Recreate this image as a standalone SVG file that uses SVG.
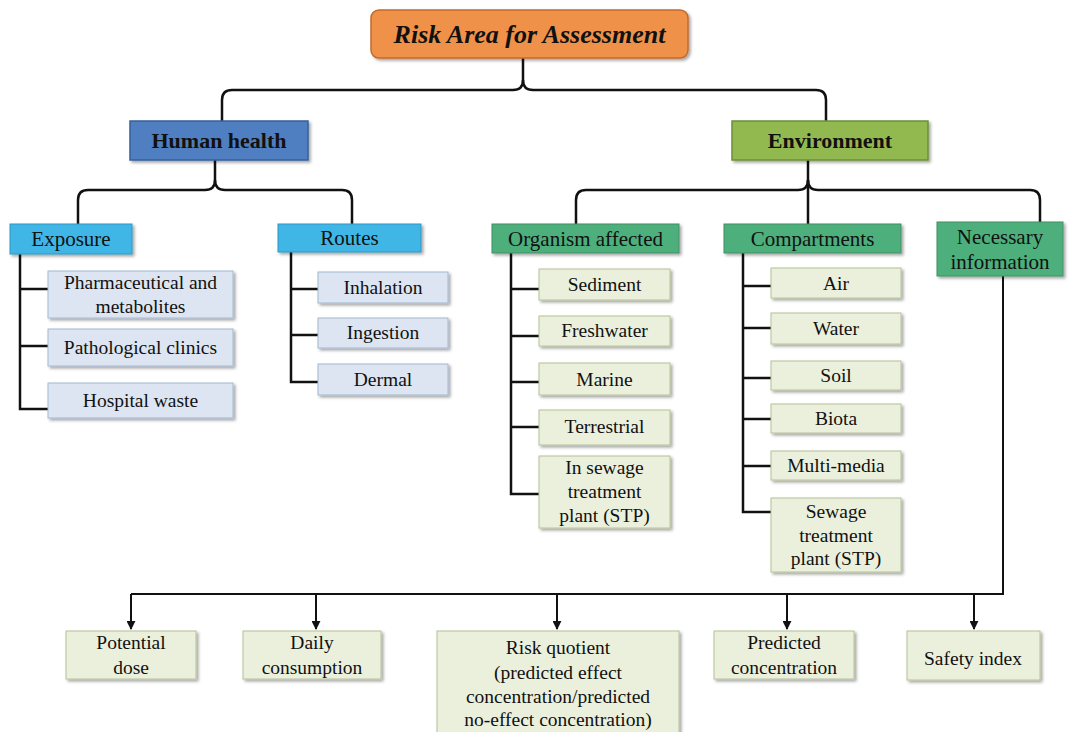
<svg xmlns="http://www.w3.org/2000/svg" width="1069" height="732" viewBox="0 0 1069 732">
<defs>
<filter id="sh" x="-10%" y="-10%" width="130%" height="140%">
<feDropShadow dx="2" dy="2" stdDeviation="1.5" flood-color="#000" flood-opacity="0.35"/>
</filter>
<marker id="arr" viewBox="0 0 10 10" refX="9" refY="5" markerWidth="9" markerHeight="9" markerUnits="userSpaceOnUse" orient="auto">
<path d="M0,0 L10,5 L0,10 z" fill="#111"/>
</marker>
<style>
text{font-family:'Liberation Serif','Tinos','Times New Roman','DejaVu Serif',serif;fill:#111;text-anchor:middle;}
.t{font-size:26px;font-weight:bold;font-style:italic;}
.h{font-size:22px;font-weight:bold;}
.s{font-size:21px;}
.c{font-size:19.5px;}
.top{fill:#F0914A;stroke:#C2692B;stroke-width:1.5;}
.hh{fill:#4F7FC0;stroke:#35609A;stroke-width:1.5;}
.env{fill:#92B94F;stroke:#6E8E38;stroke-width:1.5;}
.bl{fill:#3FB6E7;stroke:#3496C2;stroke-width:1;}
.lb{fill:#DCE5F1;stroke:#A3B8D2;stroke-width:1;}
.gr{fill:#4EAF7C;stroke:#3E9063;stroke-width:1;}
.lg{fill:#EBF0DD;stroke:#B4C294;stroke-width:1;}
.ln{fill:none;stroke:#111;stroke-width:2.5;}
.ar{fill:none;stroke:#111;stroke-width:2;}
</style>
</defs>

<g id="connectors">
<path class="ln" d="M523,58 L523,80 Q523,90 513,90 L232,90 Q222,90 222,100 L222,121"/>
<path class="ln" d="M523,80 Q523,90 533,90 L816,90 Q826,90 826,100 L826,121"/>
<path class="ln" d="M215,160 L215,180 Q215,190 205,190 L88,190 Q78,190 78,200 L78,224"/>
<path class="ln" d="M215,180 Q215,190 225,190 L342,190 Q352,190 352,200 L352,224"/>
<path class="ln" d="M808,160 L808,224"/>
<path class="ln" d="M808,180 Q808,190 798,190 L586,190 Q576,190 576,200 L576,224"/>
<path class="ln" d="M808,180 Q808,190 818,190 L1030,190 Q1040,190 1040,200 L1040,222"/>
<path class="ln" d="M20,254 L20,409 L48,409 M20,289 L48,289 M20,346 L48,346"/>
<path class="ln" d="M291,252 L291,382 L318,382 M291,289 L318,289 M291,335 L318,335"/>
<path class="ln" d="M511,253 L511,494 L539,494 M511,289 L539,289 M511,336 L539,336 M511,382 L539,382 M511,427 L539,427"/>
<path class="ln" d="M743,253 L743,512 L771,512 M743,286 L771,286 M743,328 L771,328 M743,378 L771,378 M743,419 L771,419 M743,466 L771,466"/>
<path class="ar" d="M1003,276 L1003,594 L131,594"/>
<path class="ar" d="M131,594 L131,629" marker-end="url(#arr)"/>
<path class="ar" d="M316,594 L316,629" marker-end="url(#arr)"/>
<path class="ar" d="M557,594 L557,629" marker-end="url(#arr)"/>
<path class="ar" d="M787,594 L787,629" marker-end="url(#arr)"/>
<path class="ar" d="M974,594 L974,629" marker-end="url(#arr)"/>
</g>

<g id="risk-area"><rect class="top" x="371" y="10" width="317" height="48" rx="8" filter="url(#sh)"/><text class="t" x="529.5" y="43">Risk Area for Assessment</text></g>

<g id="human-health"><rect class="hh" x="130" y="121" width="178" height="39" filter="url(#sh)"/><text class="h" x="219" y="148">Human health</text></g>
<g id="environment"><rect class="env" x="732" y="121" width="196" height="39" filter="url(#sh)"/><text class="h" x="830" y="148">Environment</text></g>

<g id="exposure"><rect class="bl" x="10" y="224" width="122" height="30" filter="url(#sh)"/><text class="s" x="71" y="246">Exposure</text></g>
<g id="routes"><rect class="bl" x="278" y="224" width="143" height="28" filter="url(#sh)"/><text class="s" x="349.5" y="245">Routes</text></g>

<g id="pharmaceutical"><rect class="lb" x="48" y="271" width="185" height="47" filter="url(#sh)"/><text class="c" x="140.5" y="289">Pharmaceutical and</text><text class="c" x="140.5" y="313">metabolites</text></g>
<g id="pathological"><rect class="lb" x="48" y="329" width="185" height="37" filter="url(#sh)"/><text class="c" x="140.5" y="354">Pathological clinics</text></g>
<g id="hospital-waste"><rect class="lb" x="48" y="383" width="185" height="35" filter="url(#sh)"/><text class="c" x="140.5" y="407">Hospital waste</text></g>

<g id="inhalation"><rect class="lb" x="318" y="272" width="130" height="31" filter="url(#sh)"/><text class="c" x="383" y="294">Inhalation</text></g>
<g id="ingestion"><rect class="lb" x="318" y="318" width="130" height="30" filter="url(#sh)"/><text class="c" x="383" y="339">Ingestion</text></g>
<g id="dermal"><rect class="lb" x="318" y="364" width="130" height="31" filter="url(#sh)"/><text class="c" x="383" y="386">Dermal</text></g>

<g id="organism-affected"><rect class="gr" x="492" y="224" width="187" height="29" filter="url(#sh)"/><text class="s" x="585.5" y="246">Organism affected</text></g>
<g id="compartments"><rect class="gr" x="724" y="224" width="177" height="29" filter="url(#sh)"/><text class="s" x="812.5" y="246">Compartments</text></g>
<g id="necessary-information"><rect class="gr" x="937" y="222" width="126" height="54" filter="url(#sh)"/><text class="s" x="1000" y="244">Necessary</text><text class="s" x="1000" y="269">information</text></g>

<g id="sediment"><rect class="lg" x="539" y="269" width="131" height="31" filter="url(#sh)"/><text class="c" x="604.5" y="291">Sediment</text></g>
<g id="freshwater"><rect class="lg" x="539" y="316" width="131" height="30" filter="url(#sh)"/><text class="c" x="604.5" y="337">Freshwater</text></g>
<g id="marine"><rect class="lg" x="539" y="363" width="131" height="32" filter="url(#sh)"/><text class="c" x="604.5" y="386">Marine</text></g>
<g id="terrestrial"><rect class="lg" x="539" y="410" width="131" height="35" filter="url(#sh)"/><text class="c" x="604.5" y="433">Terrestrial</text></g>
<g id="in-sewage"><rect class="lg" x="539" y="456" width="131" height="72" filter="url(#sh)"/><text class="c" x="604.5" y="474">In sewage</text><text class="c" x="604.5" y="498">treatment</text><text class="c" x="604.5" y="522">plant (STP)</text></g>

<g id="air"><rect class="lg" x="771" y="268" width="130" height="30" filter="url(#sh)"/><text class="c" x="836" y="290">Air</text></g>
<g id="water"><rect class="lg" x="771" y="313" width="130" height="31" filter="url(#sh)"/><text class="c" x="836" y="335">Water</text></g>
<g id="soil"><rect class="lg" x="771" y="361" width="130" height="29" filter="url(#sh)"/><text class="c" x="836" y="382">Soil</text></g>
<g id="biota"><rect class="lg" x="771" y="404" width="130" height="29" filter="url(#sh)"/><text class="c" x="836" y="425">Biota</text></g>
<g id="multi-media"><rect class="lg" x="771" y="451" width="130" height="29" filter="url(#sh)"/><text class="c" x="836" y="472">Multi-media</text></g>
<g id="sewage-stp"><rect class="lg" x="771" y="498" width="130" height="74" filter="url(#sh)"/><text class="c" x="836" y="518">Sewage</text><text class="c" x="836" y="542">treatment</text><text class="c" x="836" y="565">plant (STP)</text></g>

<g id="potential-dose"><rect class="lg" x="66" y="631" width="130" height="48" filter="url(#sh)"/><text class="c" x="131" y="649">Potential</text><text class="c" x="131" y="674">dose</text></g>
<g id="daily-consumption"><rect class="lg" x="243" y="631" width="138" height="48" filter="url(#sh)"/><text class="c" x="312" y="649">Daily</text><text class="c" x="312" y="674">consumption</text></g>
<g id="risk-quotient"><rect class="lg" x="437" y="631" width="242" height="104" filter="url(#sh)"/><text class="c" x="558" y="654">Risk quotient</text><text class="c" x="558" y="679">(predicted effect</text><text class="c" x="558" y="703">concentration/predicted</text><text class="c" x="558" y="726">no-effect concentration)</text></g>
<g id="predicted-concentration"><rect class="lg" x="714" y="631" width="140" height="48" filter="url(#sh)"/><text class="c" x="784" y="649">Predicted</text><text class="c" x="784" y="674">concentration</text></g>
<g id="safety-index"><rect class="lg" x="907" y="631" width="133" height="49" filter="url(#sh)"/><text class="c" x="973" y="665">Safety index</text></g>
</svg>
